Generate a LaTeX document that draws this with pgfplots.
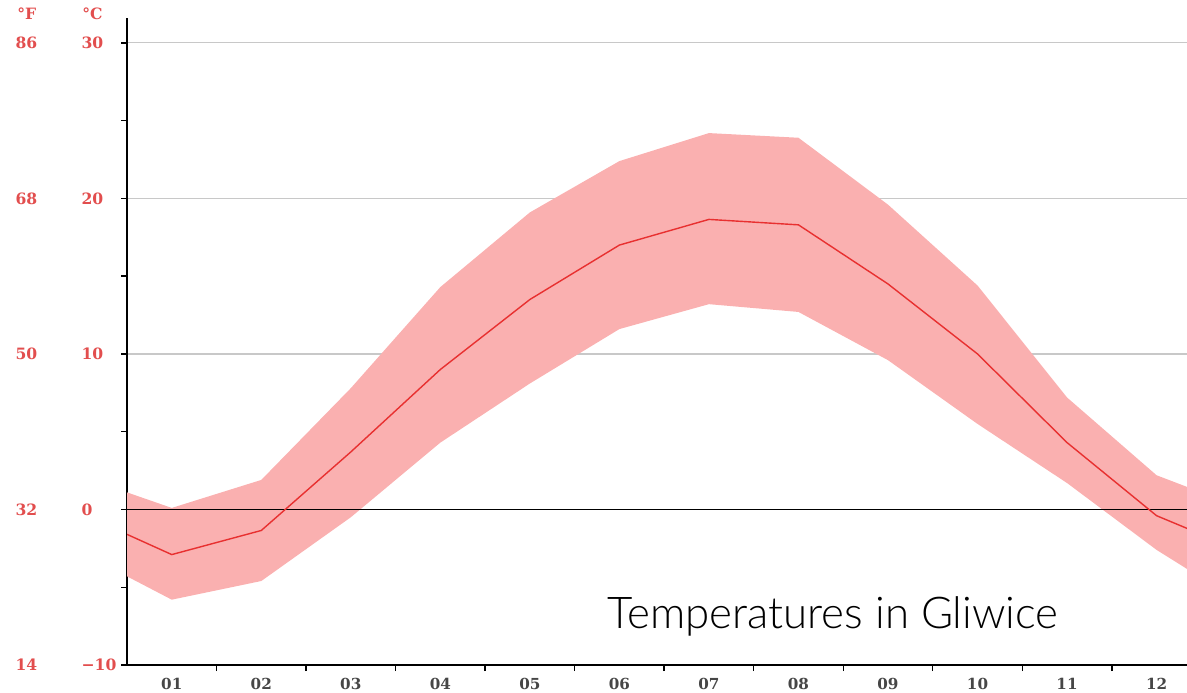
\documentclass[border=0pt]{standalone}
\usepackage{graphicx}
\usepackage{pgfplots}
\pgfplotsset{compat=1.18}
\usepackage{pgfplotstable}
\usepgfplotslibrary{fillbetween}
\usepackage{fontspec}
\setmainfont{DejaVu Serif}
\newfontfamily\titlefont{Lato Light}
\definecolor{lab}{RGB}{226,78,78}
\definecolor{band}{RGB}{250,176,176}
\definecolor{tline}{RGB}{232,48,48}
\definecolor{xlab}{RGB}{70,70,70}
\definecolor{gridc}{RGB}{200,200,200}
\pgfplotstableread{
m     mean   hi    lo
0.5   -1.6   1.1  -4.3
1     -2.9   0.1  -5.8
2     -1.35  1.9  -4.6
3      3.7   7.8  -0.5
4      9.0  14.3   4.3
5     13.5  19.1   8.1
6     17.0  22.4  11.6
7     18.65 24.2  13.2
8     18.3  23.9  12.7
9     14.5  19.6   9.6
10    10.0  14.4   5.5
11     4.3   7.2   1.7
12    -0.4   2.2  -2.6
12.5  -1.6   1.1  -4.4
}\temps
\begin{document}
\begin{tikzpicture}
\begin{axis}[
  at={(63.5pt,13.5pt)}, anchor=south west,
  scale only axis, width=530pt, height=323.5pt,
  xmin=0.5, xmax=12.34, ymin=-10, ymax=31.6,
  axis x line*=bottom, axis y line*=left,
  x axis line style={-, black, line width=0.9pt},
  y axis line style={-, black, line width=0.9pt},
  xtick={1,...,12},
  xticklabels={01,02,03,04,05,06,07,08,09,10,11,12},
  major x tick style={draw=none},
  minor xtick={1.5,2.5,...,11.5},
  ytick={-10,0,10,20,30},
  minor ytick={-5,5,15,25},
  yticklabels={
    {\makebox[33pt][l]{14}\makebox[19.5pt][l]{−10}},
    {\makebox[33pt][l]{32}\makebox[19.5pt][l]{0}},
    {\makebox[33pt][l]{50}\makebox[19.5pt][l]{10}},
    {\makebox[33pt][l]{68}\makebox[19.5pt][l]{20}},
    {\makebox[33pt][l]{86}\makebox[19.5pt][l]{30}}},
  tick align=outside,
  major tick length=3pt, minor tick length=3pt,
  tick style={black, line width=0.7pt},
  ymajorgrids, grid style={gridc, line width=0.6pt},
  yticklabel style={anchor=east, inner sep=0pt, text=lab, font=\fontsize{7.8}{9}\selectfont\bfseries},
  xticklabel style={text=xlab, font=\fontsize{7.6}{9}\selectfont\bfseries},
  clip=true,
]
\addplot[name path=hi, draw=none, forget plot] table[x=m, y=hi] {\temps};
\addplot[name path=lo, draw=none, forget plot] table[x=m, y=lo] {\temps};
\addplot[band, draw=none] fill between[of=hi and lo];
\addplot[black, line width=0.7pt] coordinates {(0.5,0) (12.34,0)};
\addplot[tline, line width=0.7pt, mark=none] table[x=m, y=mean] {\temps};
\end{axis}
\node[anchor=base west, inner sep=0pt, text=lab, font=\fontsize{7.8}{9}\selectfont\bfseries] at (8.5pt,336pt) {°F};
\node[anchor=base west, inner sep=0pt, text=lab, font=\fontsize{7.8}{9}\selectfont\bfseries] at (41pt,336pt) {°C};
\node[anchor=base west, inner sep=0pt] at (303.5pt,32pt) {\resizebox{225.5pt}{!}{\titlefont Temperatures in Gliwice}};
\pgfresetboundingbox
\path[use as bounding box] (0,0) rectangle (593.5pt,346pt);
\end{tikzpicture}
\end{document}
